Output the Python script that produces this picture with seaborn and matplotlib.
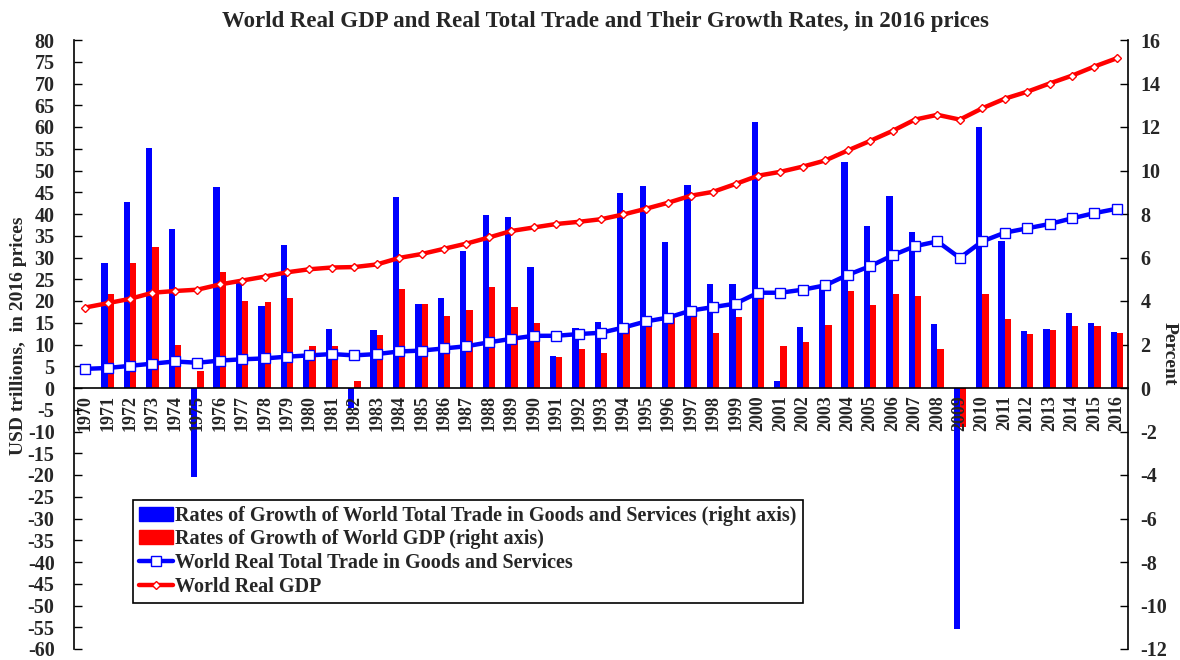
import matplotlib
matplotlib.use('Agg')
import matplotlib.pyplot as plt
import numpy as np
import pandas as pd
import seaborn as sns
from matplotlib.patches import Patch

# Data
years = list(range(1970, 2017))

# growth rates, percent (right axis)
trade_growth = [0.0, 5.75, 8.54, 11.04, 7.3, -4.09, 9.24, 4.85, 3.78, 6.59,
                1.4, 2.7, -0.92, 2.65, 8.77, 3.87, 4.12, 6.28, 7.97, 7.87,
                5.56, 1.46, 2.74, 3.02, 8.96, 9.3, 6.7, 9.34, 4.8, 4.77,
                12.21, 0.34, 2.79, 4.75, 10.41, 7.45, 8.81, 7.16, 2.93, -11.08,
                12.01, 6.74, 2.64, 2.7, 3.43, 2.97, 2.59]
gdp_growth = [0.0, 4.3, 5.75, 6.5, 1.98, 0.76, 5.34, 4.0, 3.96, 4.15,
              1.94, 1.94, 0.34, 2.42, 4.53, 3.87, 3.31, 3.58, 4.63, 3.73,
              2.97, 1.42, 1.8, 1.62, 2.9, 2.97, 3.23, 3.5, 2.52, 3.26,
              4.31, 1.94, 2.13, 2.9, 4.44, 3.83, 4.3, 4.25, 1.8, -1.8,
              4.3, 3.16, 2.47, 2.65, 2.84, 2.84, 2.52]

# levels, USD trillions in 2016 prices (left axis)
trade_level = [4.4, 4.6, 5.1, 5.6, 6.1, 5.8, 6.3, 6.6, 6.8, 7.2,
               7.5, 7.8, 7.5, 7.8, 8.4, 8.6, 9.1, 9.6, 10.5, 11.3,
               12.0, 12.0, 12.4, 12.7, 13.9, 15.3, 16.2, 17.8, 18.6, 19.4,
               21.9, 21.9, 22.6, 23.6, 26.0, 28.0, 30.5, 32.6, 33.7, 29.9,
               33.7, 35.7, 36.7, 37.7, 39.0, 40.2, 41.2]
gdp_level = [18.5, 19.5, 20.5, 21.9, 22.3, 22.6, 23.8, 24.7, 25.6, 26.6,
             27.3, 27.7, 27.8, 28.4, 29.9, 30.8, 32.0, 33.2, 34.6, 36.1,
             36.9, 37.7, 38.2, 38.8, 39.9, 41.2, 42.6, 44.2, 45.1, 46.9,
             48.8, 49.7, 50.9, 52.3, 54.6, 56.8, 59.1, 61.7, 62.8, 61.7,
             64.3, 66.5, 68.1, 70.0, 71.8, 73.9, 75.8]

bar_names = ['Rates of Growth of World Total Trade in Goods and Services (right axis)',
             'Rates of Growth of World GDP (right axis)']
line_names = ['World Real Total Trade in Goods and Services', 'World Real GDP']

sns.set_theme(style='white')
plt.rcParams['font.family'] = ['Liberation Serif', 'DejaVu Serif']
plt.rcParams['font.weight'] = 'bold'
plt.rcParams['axes.labelweight'] = 'bold'
plt.rcParams['axes.unicode_minus'] = False

df_bar = pd.DataFrame({
    'year': [str(y) for y in years] * 2,
    'rate': trade_growth + gdp_growth,
    'series': [bar_names[0]] * len(years) + [bar_names[1]] * len(years),
})
df_line = pd.DataFrame({'pos': np.arange(len(years)), 'trade': trade_level, 'gdp': gdp_level})

fig = plt.figure(figsize=(11.8, 6.6), dpi=100)
ax = fig.add_axes([74 / 1180, 11 / 660, 1054 / 1180, 609 / 660])
ax2 = ax.twinx()

# bars on the right (percent) axis
sns.barplot(data=df_bar, x='year', y='rate', hue='series', ax=ax2,
            palette=['#0000FF', '#FF0000'], width=0.56, dodge=True,
            saturation=1, legend=False, edgecolor='none')

# lines on the left axis
sns.lineplot(data=df_line, x='pos', y='gdp', ax=ax, color='#FF0000', lw=3.2,
             marker='D', markersize=4, markerfacecolor='white',
             markeredgecolor='#FF0000', markeredgewidth=1)
sns.lineplot(data=df_line, x='pos', y='trade', ax=ax, color='#0000FF', lw=3.2,
             marker='s', markersize=6.5, markerfacecolor='white',
             markeredgecolor='#0000FF', markeredgewidth=1)

ax.set_zorder(ax2.get_zorder() + 1)
ax.patch.set_visible(False)

ax.set_xlim(-0.5, len(years) - 0.5)
ax.set_ylim(-60, 80)
ax2.set_ylim(-12, 16)
ax.set_yticks(np.arange(-60, 81, 5))
ax2.set_yticks(np.arange(-12, 17, 2))

# x axis sits on zero, labels at category centres, ticks between categories
ax.spines['bottom'].set_position(('data', 0))
ax.set_xticks(np.arange(-0.5, len(years), 1.0))
ax.set_xticklabels([])
ax.set_xticks(np.arange(len(years)), minor=True)
ax.set_xticklabels([str(y) for y in years], minor=True, rotation=90,
                   fontsize=13, fontweight='bold')
ax.tick_params(axis='x', which='major', direction='in', length=4, width=1, color='black')
ax.tick_params(axis='x', which='minor', length=0, pad=5)

ax.tick_params(axis='y', direction='in', length=6, width=1, labelsize=14.5, pad=14, color='black')
ax2.tick_params(axis='y', direction='in', length=6, width=1, labelsize=14.5, pad=9, color='black')

for s in ['top', 'right']:
    ax.spines[s].set_visible(False)
for s in ['top', 'bottom', 'left']:
    ax2.spines[s].set_visible(False)
for sp in [ax.spines['left'], ax.spines['bottom'], ax2.spines['right']]:
    sp.set_color('black')
    sp.set_linewidth(1.2)

ax.set_xlabel('')
ax.set_ylabel('USD trillions,  in 2016 prices', fontsize=14, fontweight='bold')
ax.yaxis.set_label_coords(-0.045, 0.515)
ax2.set_ylabel('Percent', fontsize=14, fontweight='bold', rotation=270, va='center')
ax2.yaxis.set_label_coords(1.039, 0.485)
ax2.set_xlabel('')

fig.text(0.513, 0.968, 'World Real GDP and Real Total Trade and Their Growth Rates, in 2016 prices',
         ha='center', va='center', fontsize=16.5, fontweight='bold')

lines = ax.get_lines()
handles = [Patch(color='#0000FF'), Patch(color='#FF0000'), lines[1], lines[0]]
labels = bar_names + line_names
leg = ax.legend(handles, labels, loc='upper left', bbox_to_anchor=(0.056, 0.245),
                frameon=True, fancybox=False, edgecolor='black', framealpha=1,
                prop={'size': 14.5, 'weight': 'bold'}, handlelength=1.7,
                handletextpad=0.1, labelspacing=0.18, borderpad=0.3,
                borderaxespad=0)
leg.get_frame().set_linewidth(1.2)

fig.savefig('out.png', dpi=100)
